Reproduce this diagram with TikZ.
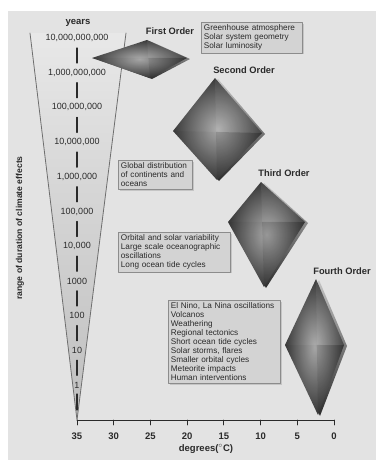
\documentclass[tikz,border=0pt]{standalone}
\usepackage{fontspec}
\setmainfont{Liberation Sans}
\usetikzlibrary{calc,shadows}
\definecolor{bgc}{HTML}{E3E3E3}
\definecolor{txt}{HTML}{2A2A2A}
\definecolor{boxc}{HTML}{D3D3D3}
\definecolor{boxline}{HTML}{8C8C8C}
\definecolor{edgec}{HTML}{6E6E6E}
\definecolor{tipc}{HTML}{4A4A4A}
\definecolor{midc}{HTML}{B4B4B4}
\definecolor{lightc}{HTML}{D6D6D6}
\definecolor{facein}{HTML}{ADADAD}
\definecolor{faceout}{HTML}{3A3A3A}
\definecolor{sidetop}{HTML}{C4C4C4}
\definecolor{sidebot}{HTML}{2C2C2C}
\pgfdeclareverticalshading{funnelfill}{100bp}{color(0bp)=(tipc); color(10bp)=(midc); color(55bp)=(lightc); color(100bp)=(white)}
\tikzset{
	ylab/.style={font=\fontsize{9}{10}\selectfont,text=txt},
	ticklab/.style={font=\bfseries\fontsize{9.5}{10}\selectfont,text=txt},
	orderlab/.style={font=\bfseries\fontsize{9.3}{10}\selectfont,text=txt},
	infobox/.style={draw=boxline,fill=boxc,line width=0.8pt,text=txt,align=left,anchor=north west,
		inner sep=2.5pt,font=\fontsize{8.2}{9}\selectfont,
		drop shadow={shadow xshift=1.2pt,shadow yshift=-1.2pt,opacity=.3}},
	tickdash/.style={line width=1.3pt,draw=txt},
	axisline/.style={line width=0.9pt,draw=txt}
}
\begin{document}
\begin{tikzpicture}[x=1pt,y=-1pt,line join=round,line cap=round]
	\useasboundingbox (0,0) rectangle (376,460);
	\fill[white] (0,0) rectangle (376,460);
	\fill[bgc] (8,11) rectangle (376,460);
	\path
	(30,33) coordinate (FL)
	(126,33) coordinate (FR)
	(77,420) coordinate (tip)
	(334,420) coordinate (xend)
	(147,40) coordinate (T1) (92,58) coordinate (L1) (187,58) coordinate (R1) (150,78) coordinate (B1)
	(215,78) coordinate (T2) (173,131) coordinate (L2) (262,133) coordinate (R2) (217,180) coordinate (B2)
	(261,182) coordinate (T3) (228,222) coordinate (L3) (305,222) coordinate (R3) (264,287) coordinate (B3)
	(316,279) coordinate (T4) (285,345) coordinate (L4) (344,345) coordinate (R4) (318,415) coordinate (B4)
	;
	% funnel of time scales
	\shade[shading=funnelfill] (FL)--(FR)--(tip)--cycle;
	\draw[edgec,line width=0.8pt] (FL)--(tip)--(FR);
	\node[ticklab] (years) at (78,23) {years};
	\foreach \v [count=\i from 0] in {{10,000,000,000},{1,000,000,000},{100,000,000},{10,000,000},{1,000,000},{100,000},{10,000},{1000},{100},{10},{1}}
		\node[ylab] (yl\i) at (77,{38+34.7*\i}) {\v};
	\foreach \i in {0,...,9}
		\draw[tickdash] (77,{48+34.7*\i}) -- (77,{63+34.7*\i});
	\draw[tickdash] (77,394) -- (77,410);
	\node[font=\bfseries\fontsize{8.6}{9}\selectfont,text=txt,rotate=90] (ytitle) at (20,228) {range of duration of climate effects};
	% temperature axis
	\draw[axisline] (tip) -- (xend);
	\foreach \d in {35,30,...,0}{
		\draw[axisline] ({334-7.343*\d},420) -- ++(0,5);
		\node[ticklab] (xl\d) at ({334-7.343*\d},436) {\d};
	}
	\node[ticklab] (xtitle) at (206,449) {degrees($^\circ$C)};
	% diamonds
	\foreach \n in {1,2,3,4}{
		\shade[top color=sidetop,bottom color=sidebot] ($(T\n)+(3,1)$)--($(R\n)+(3,1)$)--($(B\n)+(2,1)$)--($(L\n)+(1,0)$)--cycle;
		\shade[inner color=facein,outer color=faceout] (T\n)--(R\n)--(B\n)--(L\n)--cycle;
		\coordinate (C\n) at (intersection cs:first line={(T\n)--(B\n)},second line={(L\n)--(R\n)});
		\fill[white,opacity=.06] (C\n)--(T\n)--(R\n)--cycle;
		\fill[black,opacity=.12] (C\n)--(R\n)--(B\n)--cycle;
		\fill[black,opacity=.04] (C\n)--(B\n)--(L\n)--cycle;
	}
	\node[orderlab] (ord1) at (170,31) {First Order};
	\node[orderlab] (ord2) at (244,70) {Second Order};
	\node[orderlab] (ord3) at (284,173) {Third Order};
	\node[orderlab] (ord4) at (342,271) {Fourth Order};
	% causes
	\node[infobox,text width=96pt] (box1) at (201,22) {Greenhouse atmosphere\\Solar system geometry\\Solar luminosity};
	\node[infobox,text width=69pt] (box2) at (118,160) {Global distribution\\of continents and\\oceans};
	\node[infobox,text width=107pt] (box3) at (118,232) {Orbital and solar variability\\Large scale oceanographic\\oscillations\\Long ocean tide cycles};
	\node[infobox,text width=107pt] (box4) at (168,300) {El Nino, La Nina oscillations\\Volcanos\\Weathering\\Regional tectonics\\Short ocean tide cycles\\Solar storms, flares\\Smaller orbital cycles\\Meteorite impacts\\Human interventions};
\end{tikzpicture}
\end{document}
